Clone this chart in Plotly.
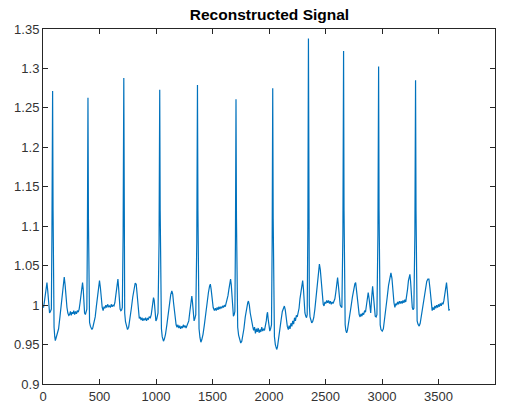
import plotly.graph_objects as go

# Trace: sample index and signal value
sample_idx = [
    0, 5, 12, 20, 28, 35, 42, 50, 58, 66, 74, 79, 85, 89, 93, 98, 104, 109, 115, 124, 138, 150, 160, 168, 178, 188, 196, 204, 212, 220, 228, 235,
    243, 250, 258, 265, 272, 280, 288, 296, 304, 312, 320, 328, 336, 344, 350, 356, 362, 368, 375, 382, 388, 393, 398, 402, 406, 412, 420, 428, 433, 440, 450, 462, 472, 482, 492, 500, 508, 516, 524, 532,
    540, 548, 556, 564, 572, 580, 588, 596, 604, 612, 620, 628, 636, 644, 652, 658, 663, 669, 676, 682, 689, 696, 702, 709, 715, 719, 723, 730, 738, 748, 758, 770, 782, 794, 806, 816, 825, 832, 840, 846,
    852, 860, 868, 876, 884, 892, 900, 908, 916, 924, 932, 940, 950, 958, 966, 972, 978, 984, 990, 999, 1006, 1012, 1018, 1027, 1033, 1037, 1041, 1048, 1055, 1060, 1066, 1074, 1084, 1096, 1108, 1120, 1130, 1140, 1148, 1156, 1164, 1172,
    1178, 1186, 1194, 1202, 1210, 1218, 1226, 1234, 1242, 1250, 1258, 1266, 1274, 1282, 1290, 1298, 1306, 1312, 1317, 1322, 1328, 1337, 1344, 1352, 1361, 1367, 1371, 1375, 1381, 1389, 1397, 1405, 1416, 1428, 1440, 1452, 1464, 1474, 1481, 1488, 1496, 1506,
    1517, 1525, 1533, 1541, 1549, 1557, 1565, 1573, 1581, 1589, 1597, 1605, 1613, 1621, 1629, 1637, 1645, 1653, 1660, 1666, 1672, 1679, 1685, 1692, 1698, 1703, 1708, 1712, 1716, 1723, 1731, 1740, 1750, 1759, 1768, 1778, 1790, 1802, 1812, 1818, 1826, 1834, 1844,
    1856, 1864, 1872, 1880, 1888, 1896, 1904, 1912, 1920, 1928, 1936, 1944, 1952, 1960, 1968, 1976, 1982, 1987, 1993, 2000, 2007, 2014, 2022, 2028, 2033, 2037, 2041, 2048, 2056, 2062, 2068, 2075, 2084, 2095, 2106, 2118, 2128, 2136, 2144, 2152, 2162,
    2171, 2178, 2186, 2194, 2202, 2210, 2218, 2226, 2234, 2242, 2250, 2258, 2266, 2274, 2282, 2290, 2298, 2305, 2312, 2318, 2325, 2332, 2338, 2344, 2349, 2353, 2357, 2363, 2370, 2378, 2386, 2396, 2406, 2416, 2426, 2436, 2446, 2454, 2462, 2472, 2480,
    2487, 2495, 2503, 2511, 2519, 2527, 2535, 2543, 2551, 2559, 2567, 2575, 2583, 2591, 2599, 2607, 2614, 2622, 2630, 2637, 2645, 2654, 2660, 2664, 2668, 2674, 2680, 2687, 2694, 2703, 2714, 2726, 2738, 2750, 2760, 2767, 2774, 2782, 2790,
    2798, 2806, 2814, 2822, 2830, 2838, 2846, 2854, 2862, 2870, 2878, 2886, 2893, 2900, 2908, 2917, 2924, 2932, 2940, 2948, 2955, 2964, 2970, 2974, 2978, 2984, 2991, 3002, 3012, 3022, 3034, 3046, 3058, 3068, 3079, 3088, 3096, 3106,
    3114, 3122, 3130, 3138, 3146, 3154, 3162, 3170, 3178, 3186, 3194, 3202, 3210, 3218, 3226, 3234, 3241, 3247, 3253, 3260, 3268, 3275, 3282, 3291, 3297, 3301, 3305, 3311, 3318, 3329, 3338, 3348, 3360, 3372, 3384, 3396, 3406, 3415, 3424, 3434,
    3444, 3452, 3460, 3468, 3476, 3484, 3492, 3500, 3508, 3516, 3524, 3532, 3540, 3548, 3556, 3564, 3571, 3578, 3585, 3592, 3598,
]
signal_val = [
    0.998, 0.997, 1.004, 1.012, 1.022, 1.0285, 1.018, 0.997, 0.990, 0.992, 0.995, 1.09, 1.2715, 1.12, 0.99, 0.972, 0.960, 0.955, 0.958, 0.963, 0.970, 0.985, 0.998, 1.009, 1.025, 1.0357, 1.025, 1.008, 0.997, 0.990, 0.987, 0.988,
    0.992, 0.987, 0.991, 0.989, 0.993, 0.988, 0.992, 0.989, 0.993, 0.991, 0.995, 1.003, 1.015, 1.026, 1.0285, 1.020, 1.002, 0.990, 0.988, 0.991, 0.995, 1.09, 1.263, 1.11, 0.99, 0.978, 0.973, 0.970, 0.969, 0.971, 0.976, 0.985, 0.998, 1.013, 1.027, 1.031, 1.022, 1.007, 0.997, 0.993,
    0.998, 0.996, 1.000, 0.997, 1.001, 0.998, 0.999, 0.997, 1.001, 0.998, 1.000, 0.999, 1.003, 1.012, 1.024, 1.031, 1.033, 1.022, 1.005, 0.995, 0.993, 0.994, 0.997, 1.09, 1.288, 1.12, 0.99, 0.979, 0.973, 0.969, 0.972, 0.982, 0.996, 1.010, 1.022, 1.028, 1.0265, 1.012, 0.995, 0.986,
    0.983, 0.985, 0.981, 0.984, 0.980, 0.983, 0.981, 0.984, 0.980, 0.983, 0.982, 0.985, 0.984, 0.988, 0.996, 1.004, 1.0094, 1.006, 0.993, 0.980, 0.982, 0.985, 0.990, 1.08, 1.273, 1.12, 0.99, 0.970, 0.960, 0.956, 0.9543, 0.957, 0.963, 0.975, 0.990, 1.004, 1.013, 1.018, 1.014, 1.002, 0.988, 0.978,
    0.975, 0.972, 0.975, 0.971, 0.974, 0.970, 0.973, 0.971, 0.975, 0.972, 0.974, 0.971, 0.975, 0.976, 0.980, 0.990, 1.002, 1.009, 1.0116, 1.005, 0.992, 0.980, 0.983, 0.988, 1.08, 1.279, 1.12, 0.99, 0.970, 0.959, 0.953, 0.956, 0.963, 0.975, 0.990, 1.004, 1.016, 1.024, 1.0265, 1.020, 1.008, 0.997,
    0.993, 0.996, 0.993, 0.997, 0.994, 0.998, 0.995, 0.998, 0.996, 0.999, 0.997, 1.000, 0.998, 1.002, 1.005, 1.012, 1.020, 1.028, 1.033, 1.026, 1.008, 0.993, 0.986, 0.988, 0.992, 1.08, 1.261, 1.11, 0.99, 0.972, 0.962, 0.956, 0.952, 0.954, 0.960, 0.970, 0.985, 0.997, 1.003, 1.0052, 1.000, 0.990, 0.980,
    0.973, 0.968, 0.972, 0.964, 0.970, 0.966, 0.971, 0.965, 0.969, 0.966, 0.972, 0.967, 0.970, 0.968, 0.973, 0.980, 0.988, 0.991, 0.982, 0.969, 0.967, 0.970, 0.975, 1.08, 1.275, 1.11, 0.98, 0.960, 0.950, 0.946, 0.9438, 0.947, 0.955, 0.968, 0.980, 0.992, 0.997, 0.9988, 0.994, 0.984, 0.973,
    0.969, 0.974, 0.970, 0.977, 0.973, 0.980, 0.976, 0.984, 0.980, 0.987, 0.985, 0.990, 0.996, 1.008, 1.018, 1.027, 1.031, 1.020, 1.000, 0.990, 0.986, 0.984, 0.988, 1.10, 1.338, 1.13, 1.00, 0.985, 0.980, 0.9776, 0.979, 0.984, 0.995, 1.010, 1.027, 1.043, 1.052, 1.045, 1.028, 1.010, 1.001,
    0.999, 1.004, 1.002, 1.006, 1.003, 1.006, 1.002, 1.005, 1.001, 1.004, 1.002, 1.005, 1.008, 1.016, 1.028, 1.035, 1.025, 1.010, 1.000, 0.998, 0.997, 1.09, 1.322, 1.12, 0.99, 0.975, 0.968, 0.965, 0.968, 0.975, 0.985, 0.998, 1.010, 1.021, 1.027, 1.0285, 1.018, 1.002, 0.993,
    0.988, 0.985, 0.989, 0.986, 0.990, 0.988, 0.993, 0.991, 0.998, 1.008, 1.016, 1.008, 0.993, 0.990, 1.008, 1.024, 1.012, 0.995, 0.986, 0.985, 0.988, 1.09, 1.3025, 1.12, 0.99, 0.975, 0.969, 0.967, 0.970, 0.980, 0.994, 1.010, 1.025, 1.036, 1.041, 1.034, 1.018, 1.003,
    0.997, 1.002, 1.000, 1.004, 1.001, 1.005, 1.002, 1.005, 1.002, 1.006, 1.003, 1.007, 1.004, 1.010, 1.020, 1.031, 1.037, 1.039, 1.030, 1.010, 0.997, 0.994, 0.996, 1.09, 1.285, 1.12, 0.99, 0.980, 0.976, 0.9734, 0.977, 0.986, 0.998, 1.012, 1.024, 1.030, 1.033, 1.033, 1.022, 1.005,
    0.993, 0.997, 0.994, 0.999, 0.996, 1.000, 0.997, 1.001, 0.998, 1.002, 0.999, 1.003, 1.001, 1.006, 1.015, 1.025, 1.0285, 1.018, 1.002, 0.993, 0.995,
]

x_tick_vals = [0, 500, 1000, 1500, 2000, 2500, 3000, 3500, 4000]
x_tick_text = ["0", "500", "1000", "1500", "2000", "2500", "3000", "3500", "4000"]
y_tick_vals = [0.9, 0.95, 1.0, 1.05, 1.1, 1.15, 1.2, 1.25, 1.3, 1.35]
y_tick_text = ["0.9", "0.95", "1", "1.05", "1.1", "1.15", "1.2", "1.25", "1.3", "1.35"]
title_text = "Reconstructed Signal"

fig = go.Figure()
fig.add_trace(go.Scatter(
    x=sample_idx, y=signal_val, mode="lines",
    line=dict(color="#0072BD", width=1.2),
    hoverinfo="skip", showlegend=False,
))

axis_common = dict(
    showgrid=False, zeroline=False, showline=True, linecolor="#262626", linewidth=1,
    mirror="allticks", ticks="inside", ticklen=5, tickcolor="#262626", tickwidth=1,
    automargin=False,
    tickfont=dict(family="Liberation Sans, Arial, sans-serif", size=13, color="#333333"),
)

# The page body adds an 8 px offset; the figure is sized to fit the window
fig.update_layout(
    width=499, height=400,
    margin=dict(l=35, r=12, t=21, b=24, autoexpand=False),
    paper_bgcolor="white", plot_bgcolor="white",
    title=dict(text="<b>" + title_text + "</b>", x=0.524, xanchor="center", y=0.998, yanchor="top",
               font=dict(family="Liberation Sans, Arial, sans-serif", size=15.5, color="black")),
    xaxis=dict(range=[0, 4000], tickvals=x_tick_vals, ticktext=x_tick_text, **axis_common),
    yaxis=dict(range=[0.9, 1.35], tickvals=y_tick_vals, ticktext=y_tick_text, **axis_common),
)

fig.write_html("out.html")
